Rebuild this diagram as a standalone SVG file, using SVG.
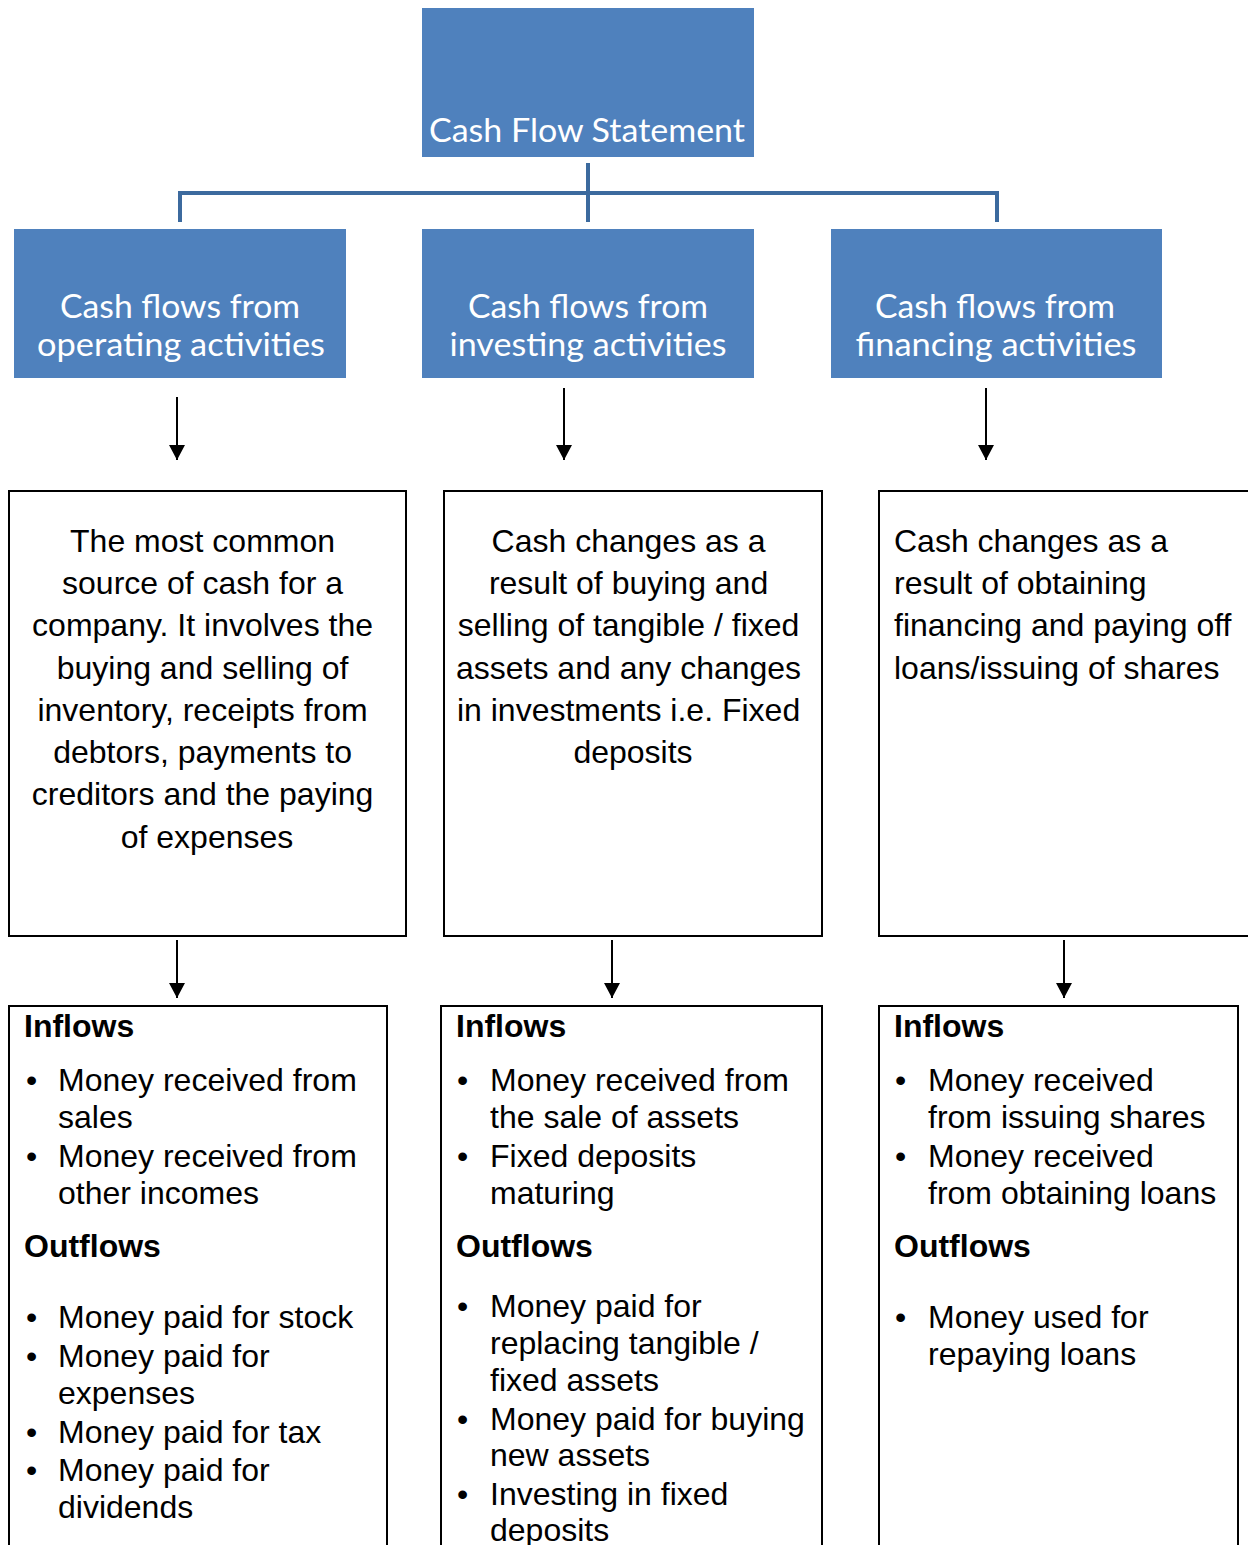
<svg xmlns="http://www.w3.org/2000/svg" width="1248" height="1545" viewBox="0 0 1248 1545">
  <style>
    .hdr { fill: #4F81BD; }
    .hdr-t { font-family: Lato, "Open Sans", sans-serif; font-size: 33px; fill: #FFFFFF; text-anchor: middle; }
    .box { fill: #FFFFFF; stroke: #000000; stroke-width: 2; }
    .body { font-family: "Liberation Sans", Arial, sans-serif; font-size: 32px; fill: #000000; }
    .mid { text-anchor: middle; }
    .bold { font-weight: bold; }
    .tree { fill: none; stroke: #3C6A9E; stroke-width: 4; }
    .arrow { fill: none; stroke: #000000; stroke-width: 2; marker-end: url(#head); }
  </style>
  <defs>
    <marker id="head" markerWidth="16" markerHeight="16" refX="15" refY="8" orient="auto" markerUnits="userSpaceOnUse" viewBox="0 0 16 16">
      <path d="M0,0 L15,8 L0,16 Z" fill="#000000"/>
    </marker>
  </defs>

  <rect width="1248" height="1545" fill="#FFFFFF"/>

  <!-- connectors -->
  <g id="connectors">
    <path class="tree" d="M588,163 V222 M180,222 V193 H997 V222"/>
    <line class="arrow" x1="177" y1="397" x2="177" y2="460"/>
    <line class="arrow" x1="564" y1="388" x2="564" y2="460"/>
    <line class="arrow" x1="986" y1="388" x2="986" y2="460"/>
    <line class="arrow" x1="177" y1="940" x2="177" y2="998"/>
    <line class="arrow" x1="612" y1="940" x2="612" y2="998"/>
    <line class="arrow" x1="1064" y1="940" x2="1064" y2="998"/>
  </g>

  <!-- root -->
  <g id="root">
    <rect class="hdr" x="422" y="8" width="332" height="149"/>
    <text class="hdr-t" x="587" y="142" textLength="316" lengthAdjust="spacingAndGlyphs">Cash Flow Statement</text>
  </g>

  <!-- activity headers -->
  <g id="operating">
    <rect class="hdr" x="14" y="229" width="332" height="149"/>
    <text class="hdr-t" x="180" y="318" textLength="240" lengthAdjust="spacingAndGlyphs">Cash flows from</text>
    <text class="hdr-t" x="181" y="356" textLength="288" lengthAdjust="spacingAndGlyphs">operating activities</text>
  </g>
  <g id="investing">
    <rect class="hdr" x="422" y="229" width="332" height="149"/>
    <text class="hdr-t" x="588" y="318" textLength="240" lengthAdjust="spacingAndGlyphs">Cash flows from</text>
    <text class="hdr-t" x="588" y="356" textLength="277" lengthAdjust="spacingAndGlyphs">investing activities</text>
  </g>
  <g id="financing">
    <rect class="hdr" x="831" y="229" width="331" height="149"/>
    <text class="hdr-t" x="995" y="318" textLength="240" lengthAdjust="spacingAndGlyphs">Cash flows from</text>
    <text class="hdr-t" x="996" y="356" textLength="281" lengthAdjust="spacingAndGlyphs">financing activities</text>
  </g>

  <!-- descriptions -->
  <g id="operating-desc">
    <rect class="box" x="9" y="491" width="397" height="445"/>
    <text class="body mid" x="207">
      <tspan x="207" y="552">The most common</tspan>
      <tspan x="207" y="594">source of cash for a</tspan>
      <tspan x="207" y="636">company. It involves the</tspan>
      <tspan x="207" y="679">buying and selling of</tspan>
      <tspan x="207" y="721">inventory, receipts from</tspan>
      <tspan x="207" y="763">debtors, payments to</tspan>
      <tspan x="207" y="805">creditors and the paying</tspan>
      <tspan x="207" y="848">of expenses</tspan>
    </text>
  </g>
  <g id="investing-desc">
    <rect class="box" x="444" y="491" width="378" height="445"/>
    <text class="body mid" x="633">
      <tspan x="633" y="552">Cash changes as a</tspan>
      <tspan x="633" y="594">result of buying and</tspan>
      <tspan x="633" y="636">selling of tangible / fixed</tspan>
      <tspan x="633" y="679">assets and any changes</tspan>
      <tspan x="633" y="721">in investments i.e. Fixed</tspan>
      <tspan x="633" y="763">deposits</tspan>
    </text>
  </g>
  <g id="financing-desc">
    <rect class="box" x="879" y="491" width="380" height="445"/>
    <text class="body">
      <tspan x="894" y="552">Cash changes as a</tspan>
      <tspan x="894" y="594">result of obtaining</tspan>
      <tspan x="894" y="636">financing and paying off</tspan>
      <tspan x="894" y="679">loans/issuing of shares</tspan>
    </text>
  </g>

  <!-- inflow / outflow lists -->
  <g id="operating-flows">
    <rect class="box" x="9" y="1006" width="378" height="560"/>
    <text class="body bold" x="24" y="1037">Inflows</text>
    <text class="body">
      <tspan x="26" y="1091">•</tspan><tspan x="58" y="1091">Money received from</tspan>
      <tspan x="58" y="1128">sales</tspan>
      <tspan x="26" y="1167">•</tspan><tspan x="58" y="1167">Money received from</tspan>
      <tspan x="58" y="1204">other incomes</tspan>
    </text>
    <text class="body bold" x="24" y="1257">Outflows</text>
    <text class="body">
      <tspan x="26" y="1328">•</tspan><tspan x="58" y="1328">Money paid for stock</tspan>
      <tspan x="26" y="1367">•</tspan><tspan x="58" y="1367">Money paid for</tspan>
      <tspan x="58" y="1404">expenses</tspan>
      <tspan x="26" y="1443">•</tspan><tspan x="58" y="1443">Money paid for tax</tspan>
      <tspan x="26" y="1481">•</tspan><tspan x="58" y="1481">Money paid for</tspan>
      <tspan x="58" y="1518">dividends</tspan>
    </text>
  </g>
  <g id="investing-flows">
    <rect class="box" x="441" y="1006" width="381" height="560"/>
    <text class="body bold" x="456" y="1037">Inflows</text>
    <text class="body">
      <tspan x="457" y="1091">•</tspan><tspan x="490" y="1091">Money received from</tspan>
      <tspan x="490" y="1128">the sale of assets</tspan>
      <tspan x="457" y="1167">•</tspan><tspan x="490" y="1167">Fixed deposits</tspan>
      <tspan x="490" y="1204">maturing</tspan>
    </text>
    <text class="body bold" x="456" y="1257">Outflows</text>
    <text class="body">
      <tspan x="457" y="1317">•</tspan><tspan x="490" y="1317">Money paid for</tspan>
      <tspan x="490" y="1354">replacing tangible /</tspan>
      <tspan x="490" y="1391">fixed assets</tspan>
      <tspan x="457" y="1430">•</tspan><tspan x="490" y="1430">Money paid for buying</tspan>
      <tspan x="490" y="1466">new assets</tspan>
      <tspan x="457" y="1505">•</tspan><tspan x="490" y="1505">Investing in fixed</tspan>
      <tspan x="490" y="1541">deposits</tspan>
    </text>
  </g>
  <g id="financing-flows">
    <rect class="box" x="879" y="1006" width="359" height="560"/>
    <text class="body bold" x="894" y="1037">Inflows</text>
    <text class="body">
      <tspan x="895" y="1091">•</tspan><tspan x="928" y="1091">Money received</tspan>
      <tspan x="928" y="1128">from issuing shares</tspan>
      <tspan x="895" y="1167">•</tspan><tspan x="928" y="1167">Money received</tspan>
      <tspan x="928" y="1204">from obtaining loans</tspan>
    </text>
    <text class="body bold" x="894" y="1257">Outflows</text>
    <text class="body">
      <tspan x="895" y="1328">•</tspan><tspan x="928" y="1328">Money used for</tspan>
      <tspan x="928" y="1365">repaying loans</tspan>
    </text>
  </g>
</svg>
